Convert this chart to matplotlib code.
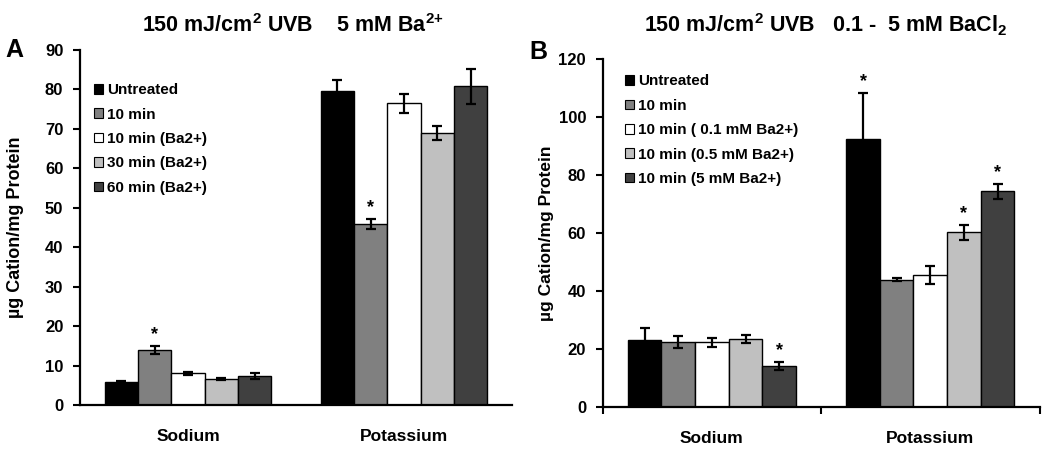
import matplotlib
matplotlib.use('Agg')
import matplotlib.pyplot as plt
import numpy as np

# fonts: Arial-like bold everywhere
plt.rcParams['font.family'] = ['Liberation Sans', 'DejaVu Sans']
plt.rcParams['font.weight'] = 'bold'
plt.rcParams['mathtext.fontset'] = 'custom'
plt.rcParams['mathtext.rm'] = 'Liberation Sans:bold'
plt.rcParams['mathtext.bf'] = 'Liberation Sans:bold'
plt.rcParams['mathtext.default'] = 'bf'

# data
cations = ['Sodium', 'Potassium']
colors = ['#000000', '#808080', '#ffffff', '#c0c0c0', '#404040']

labels_a = ['Untreated', '10 min', '10 min (Ba2+)', '30 min (Ba2+)', '60 min (Ba2+)']
values_a = [[5.9, 79.6], [14.0, 45.8], [8.0, 76.5], [6.6, 69.0], [7.3, 80.8]]
errors_a = [[0.3, 2.7], [1.0, 1.3], [0.3, 2.4], [0.3, 1.7], [0.75, 4.4]]
stars_a = [[0, 0], [1, 1], [0, 0], [0, 0], [0, 0]]

labels_b = ['Untreated', '10 min', '10 min ( 0.1 mM Ba2+)', '10 min (0.5 mM Ba2+)',
            '10 min (5 mM Ba2+)']
values_b = [[23.0, 92.5], [22.3, 43.8], [22.3, 45.5], [23.5, 60.2], [14.2, 74.4]]
errors_b = [[4.2, 15.9], [2.1, 0.5], [1.5, 3.1], [1.4, 2.5], [1.3, 2.6]]
stars_b = [[0, 1], [0, 0], [0, 0], [0, 1], [1, 1]]

fig = plt.figure(figsize=(10.5, 4.5), dpi=100)
ax_a = fig.add_axes([0.0762, 0.1, 0.4114, 0.789])
ax_b = fig.add_axes([0.574, 0.0956, 0.416, 0.7734])


def draw_panel(ax, labels, values, errors, stars, ymax, ystep):
    x = np.arange(len(cations)) + 0.5
    w = 0.154
    n = len(labels)
    for i in range(n):
        pos = x + (i - (n - 1) / 2) * w
        ax.bar(pos, values[i], width=w, color=colors[i], edgecolor='black',
               linewidth=1.0, label=labels[i], zorder=2)
        ax.errorbar(pos, values[i], yerr=errors[i], fmt='none', ecolor='black',
                    elinewidth=1.6, capsize=3.8, capthick=1.6, zorder=3)
        for j in range(len(cations)):
            if stars[i][j]:
                ax.annotate('*', (pos[j], values[i][j] + errors[i][j]),
                            xytext=(0, 2), textcoords='offset points',
                            ha='center', va='bottom', fontsize=13)
    ax.set_xlim(0, len(cations))
    ax.set_ylim(0, ymax)
    ax.set_yticks(np.arange(0, ymax + 1, ystep))
    ax.spines['top'].set_visible(False)
    ax.spines['right'].set_visible(False)
    ax.spines['left'].set_linewidth(1.6)
    ax.spines['bottom'].set_linewidth(1.6)
    ax.tick_params(axis='y', direction='out', length=5, width=1.5,
                   labelsize=12, pad=7)
    leg = ax.legend(loc='upper left', frameon=False, fontsize=11,
                    handlelength=0.6, handleheight=0.6, handletextpad=0.25,
                    labelspacing=0.68)
    for h in leg.legend_handles:
        h.set_linewidth(0.8)
    return x


xa = draw_panel(ax_a, labels_a, values_a, errors_a, stars_a, 90, 10)
ax_a.set_xticks(xa)
ax_a.set_xticklabels(cations, fontsize=12.5)
ax_a.tick_params(axis='x', length=0, pad=17)
ax_a.set_ylabel('\u00b5g Cation/mg Protein', fontsize=13, fontweight='bold')
ax_a.yaxis.set_label_coords(-0.13, 0.5)
ax_a.legend_.set_bbox_to_anchor((0.0, 0.945))

xb = draw_panel(ax_b, labels_b, values_b, errors_b, stars_b, 120, 20)
ax_b.set_xticks([0, 1, 2])
ax_b.set_xticklabels([])
ax_b.tick_params(axis='x', which='major', direction='out', length=5, width=1.5)
ax_b.set_xticks(xb, minor=True)
ax_b.set_xticklabels(cations, minor=True, fontsize=12.5)
ax_b.tick_params(axis='x', which='minor', length=0, pad=17)
ax_b.set_ylabel('\u00b5g Cation/mg Protein', fontsize=12.5, fontweight='bold')
ax_b.yaxis.set_label_coords(-0.112, 0.5)
ax_b.legend_.set_bbox_to_anchor((0.02, 0.995))

fig.text(0.279, 0.943, r'150 mJ/cm$^2$ UVB    5 mM Ba$^{2{+}}$', ha='center',
         va='center', fontsize=15.5, fontweight='bold')
fig.text(0.786, 0.945, r'150 mJ/cm$^2$ UVB   0.1 -  5 mM BaCl$_2$', ha='center',
         va='center', fontsize=15.5, fontweight='bold')
fig.text(0.0135, 0.889, 'A', ha='center', va='center', fontsize=18, fontweight='bold')
fig.text(0.5125, 0.885, 'B', ha='center', va='center', fontsize=18, fontweight='bold')

fig.savefig('out.png', dpi=100)
